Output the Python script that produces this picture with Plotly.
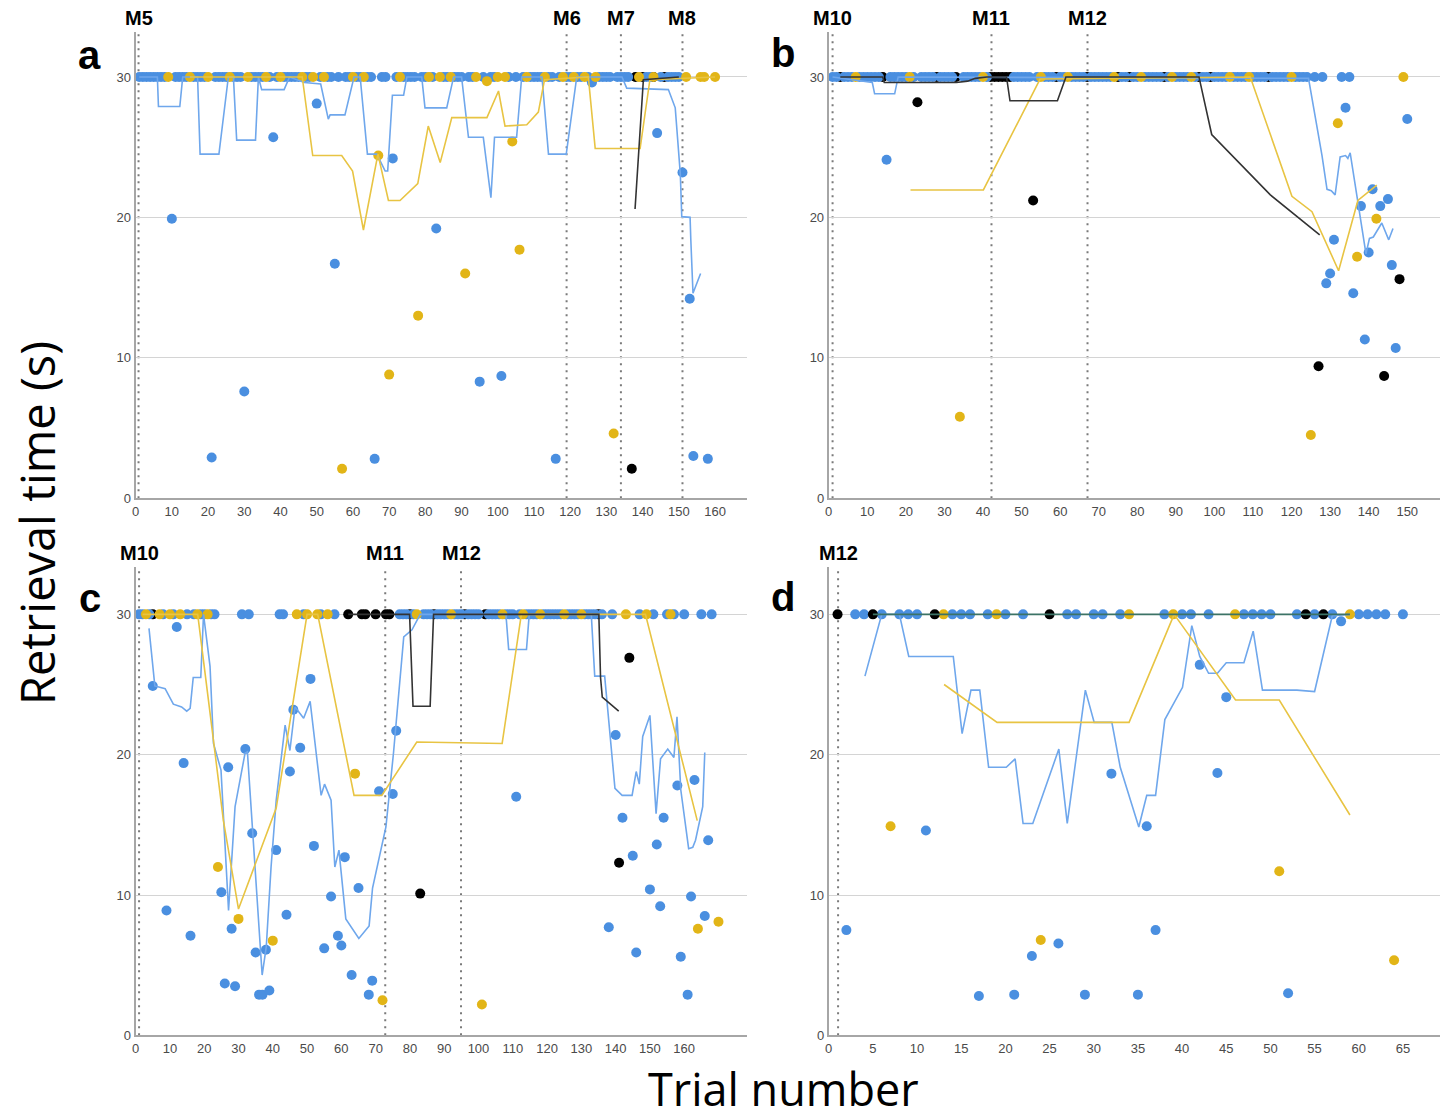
import plotly.graph_objects as go

W, H = 1451, 1118
S = 0.9925  # vertical calibration of target pixel positions
CEIL = 30

BLUE = "#4A8FE0"
YEL = "#E2B517"
BLK = "#000000"
BLUE_L = "#6FA7EC"
YEL_L = "#E8C443"
BLK_L = "#333333"
TEAL_L = "#3C7366"

# ---------------- Panel a ----------------
a_blue30 = [1,2,3,4,5,6,7,8,11,12,13,14,16,17,18,19,22,23,24,25,27,28,29,32,33,34,35,37,39,41,42,43,44,45,47,48,51,53,54,56,58,59,61,62,64,65,68,69,72,74,75,76,77,79,80,82,85,86,88,89,90,92,93,96,98,99,103,105,107,109,110,111,112,114,115,117,119,120,122,123,125,128,129,130,131,133,134,135,136,141,142,145,147,148,149,150]
a_blue_x = [10,21,30,38,50,55,66,71,83,95,101,116,126,144,151,153,154,158]
a_blue_y = [19.9,2.9,7.6,25.7,28.1,16.7,2.8,24.2,19.2,8.3,8.7,2.8,29.6,26.0,23.2,14.2,3.0,2.8]
a_yel30 = [9,15,20,26,31,36,40,46,49,52,60,63,73,81,84,87,94,100,102,108,113,118,121,124,127,139,143,152,156,157,160]
a_yel_x = [57,67,70,78,91,97,104,106,132]
a_yel_y = [2.1,24.4,8.8,13.0,16.0,29.7,25.4,17.7,4.6]
a_blk30 = [138,140,143,146]
a_blk_x = [137]
a_blk_y = [2.1]
a_lblue_x = [1,6,6.3,12.2,13,17.1,17.8,23,25.6,27,27.9,33.1,33.9,34.4,34.8,41,42.5,46.6,51.1,53.2,53.7,57.8,60.3,62,64,66.6,68.9,69.6,70.9,74,74.9,79,79.9,85.9,87.8,90,91.9,96,98.1,99.1,105.2,106.6,112.2,114,118.9,121.8,134.3,135.6,147.1,149,150.4,150.8,153.1,153.3,153.9,156]
a_lblue_y = [30,30,27.9,27.9,30,30,24.5,24.5,30,30,25.5,25.5,30,29.5,29.1,29.1,30,29.6,29.5,27.0,27.3,27.3,30,30,24.5,24.5,23.3,23.3,28.7,28.7,30,30,27.8,27.8,30,30,25.7,25.7,21.4,25.7,25.7,30,30,24.5,24.5,30,30,29.2,29.1,27.8,23.1,20.05,20.0,18.4,14.6,16.0]
a_lyel_x = [15,46,48.9,56.9,59.9,62.9,66.9,69.8,73,77.9,80.8,84.1,87.3,95.6,97,100.2,102,108,111.2,112.9,125,126.9,139.3,142,160]
a_lyel_y = [30,30,24.4,24.4,23.3,19.1,24.5,21.2,21.2,22.4,26.5,23.9,27.1,27.1,27.1,29.0,26.5,26.6,27.5,29.8,30,24.9,24.9,29.8,30]
a_lblk_x = [137.9,140.2,150]
a_lblk_y = [20.6,29.8,30]
a_ms_x = [0.8,119,134,151]
a_ms_lab = ["M5","M6","M7","M8"]
a_ticks = [0,10,20,30,40,50,60,70,80,90,100,110,120,130,140,150,160]

# ---------------- Panel b ----------------
b_blue30 = [1,2,4,5,6,8,9,10,11,12,13,16,17,18,19,20,22,24,25,26,27,29,30,31,32,35,36,37,38,39,41,48,49,50,51,52,54,56,57,58,60,61,63,64,65,66,68,69,70,71,72,73,76,77,79,80,82,83,84,85,86,88,90,91,92,93,95,97,98,100,101,102,103,105,106,107,108,110,111,112,113,115,116,117,118,119,121,122,123,124,126,128,133,135]
b_blue_x = [15,129,130,131,134,136,138,139,140,141,143,145,146,147,150]
b_blue_y = [24.1,15.3,16.0,18.4,27.8,14.6,20.8,11.3,17.5,22.0,20.8,21.3,16.6,10.7,27.0]
b_yel30 = [7,21,40,55,62,74,81,89,94,104,109,120,149]
b_yel_x = [34,125,132,137,142]
b_yel_y = [5.8,4.5,26.7,17.2,19.9]
b_blk30 = [3,14,28,33,42,43,44,45,46,47,59,67,75,78,87,96,99,114]
b_blk_x = [23,53,127,144,148]
b_blk_y = [28.2,21.2,9.4,8.7,15.6]
b_lblue_x = [1,11.3,11.9,17.1,18,124.4,127.9,129.2,130.3,131.3,132.6,134,134.6,135.2,139.3,140.2,141.2,143.4,145.2,146.3]
b_lblue_y = [30,29.6,28.8,28.8,30,29.9,24.4,22.0,21.9,21.6,24.3,24.4,24.2,24.6,17.4,18.5,18.6,19.6,18.4,19.2]
b_lyel_x = [21.2,40.1,54.8,109.3,120.1,125.3,132.2,137.2,142.1]
b_lyel_y = [21.95,21.95,29.85,30,21.5,20.4,16.2,21.2,22.3]
b_lblk_x = [3,14,14.4,33.1,36,38,41,46.1,47,59.3,61.5,96,99.3,114.5,127.3]
b_lblk_y = [30,30,29.6,29.6,29.7,29.9,30,30,28.3,28.3,30,30,25.9,21.6,18.75]
b_ms_x = [1.0,42.2,67.1]
b_ms_lab = ["M10","M11","M12"]
b_ticks = [0,10,20,30,40,50,60,70,80,90,100,110,120,130,140,150]

# ---------------- Panel c ----------------
c_blue30 = [1,2,4,8,11,15,17,19,20,22,23,31,33,42,43,49,54,58,77,78,79,81,84,85,86,88,89,90,91,93,94,95,97,98,99,100,103,104,105,106,108,109,110,112,114,115,116,117,119,120,121,122,123,124,126,127,128,129,131,132,133,134,136,139,147,151,155,157,160,165,168]
c_blue_x = [5,9,12,14,16,25,26,27,28,29,32,34,35,36,37,38,39,41,44,45,46,48,51,52,55,57,59,60,61,63,65,68,69,71,75,76,111,138,140,142,145,146,150,152,153,154,158,159,161,162,163,166,167]
c_blue_y = [24.9,8.9,29.1,19.4,7.1,10.2,3.7,19.1,7.6,3.5,20.4,14.4,5.9,2.9,2.9,6.1,3.2,13.2,8.6,18.8,23.2,20.5,25.4,13.5,6.2,9.9,7.1,6.4,12.7,4.3,10.5,2.9,3.9,17.4,17.2,21.7,17.0,7.7,21.4,15.5,12.8,5.9,10.4,13.6,9.2,15.5,17.8,5.6,2.9,9.9,18.2,8.5,13.9]
c_yel30 = [3,7,10,13,18,21,47,50,53,56,82,92,107,113,118,125,130,143,149,156]
c_yel_x = [24,30,40,64,72,101,164,170]
c_yel_y = [12.0,8.3,6.75,18.65,2.5,2.2,7.6,8.1]
c_blk30 = [5,62,66,67,70,73,74,80,87,96,102,135]
c_blk_x = [83,141,144]
c_blk_y = [10.1,12.3,26.9]
c_lblue_x = [3.9,5.6,8.6,11,13.4,14.9,15.9,16.8,19,19.8,21.7,22.7,24.9,25.6,27.1,29,31.9,32.6,33.9,36.9,38.1,39.5,41,43.6,45,46.5,49,50.9,54.1,55.1,57,58.1,59.3,61.3,65.1,68.1,69.1,73,75.2,76.5,78.2,80.6,83,108,108.8,114,114.8,132.9,133.9,136.8,139.8,141.9,144.8,146,146.9,147.9,150,151.8,153.1,155.2,157,157.9,159,161.3,162.5,163.3,165.4,166]
c_lblue_y = [29.0,24.9,24.7,23.6,23.4,23.1,23.3,25.5,25.5,30,26.3,20.8,18.9,15.5,8.9,16.3,20.1,20.2,15.3,4.3,6.3,12,16.75,22.1,20.3,23.4,22.6,23.8,17.1,17.9,16.75,12,13.2,8.3,6.9,7.8,10.5,14.85,20.1,23.9,28.4,28.9,30,30,27.5,27.5,30,30,25.6,25.6,17.6,17.1,17.1,18.8,17.9,21.3,22.8,15.8,19.7,20.4,19.8,22.7,17.5,13.3,13.4,13.9,16.3,20.15]
c_lyel_x = [2,18.1,22.2,24.1,25.6,30,41,50,53.1,63.7,71.8,82,106.9,112.5,148.7,163.8]
c_lyel_y = [30,30,22.0,18.2,15.3,9.0,16.2,30,30,17.1,17.1,20.9,20.8,30,30,15.3]
c_lblk_x = [62,79.9,80.9,85.9,86.9,135.1,135.6,136.1,140.9]
c_lblk_y = [30,30,23.45,23.45,30,30,25.5,24.1,23.1]
c_ms_x = [1.0,72.8,94.9]
c_ms_lab = ["M10","M11","M12"]
c_ticks = [0,10,20,30,40,50,60,70,80,90,100,110,120,130,140,150,160]

# ---------------- Panel d ----------------
d_blue30 = [3,4,6,8,9,10,14,15,16,18,20,22,27,28,30,31,33,38,40,41,43,47,48,49,50,53,55,57,60,61,62,63,65]
d_blue_x = [2,11,17,21,23,26,29,32,35,36,37,42,44,45,52,58]
d_blue_y = [7.5,14.6,2.8,2.9,5.65,6.55,2.9,18.65,2.9,14.9,7.5,26.4,18.7,24.1,3.0,29.5]
d_yel30 = [13,19,34,39,46,59]
d_yel_x = [7,24,51,64]
d_yel_y = [14.9,6.8,11.7,5.35]
d_blk30 = [1,5,12,25,54,56]
d_blk_x = []
d_blk_y = []
d_lblue_x = [4.1,6,8,9.06,14.1,15.1,16.1,17.1,18.1,20.1,21.1,22,23.1,26.05,27,29.05,30.05,32.05,33,35.1,36,37,38.05,40.05,41.1,42,43,44,45,47,48.05,49.1,53,55,57,59]
d_lblue_y = [25.6,30,30,27.0,27.0,21.5,24.6,24.6,19.1,19.1,19.7,15.1,15.1,20.4,15.1,24.6,22.3,22.3,19.1,14.85,17.1,17.1,22.5,24.8,29.2,27.0,25.8,25.8,26.55,26.55,28.8,24.6,24.6,24.5,29.9,30]
d_lyel_x = [13.06,19.06,34,39.1,46.05,51,59]
d_lyel_y = [25.0,22.3,22.3,30,23.9,23.9,15.7]
d_lblk_x = [5,59]
d_lblk_y = [30,30]
d_ms_x = [1.06]
d_ms_lab = ["M12"]
d_ticks = [0,5,10,15,20,25,30,35,40,45,50,55,60,65]


def px_x(p):
    return p / W


def px_y(p):
    return 1 - p / (H * S)


panels = [
    dict(name="a", left=132, right=745, top=32, bottom=498, xmax=168.8, ymax=33.2,
         blue30=a_blue30, bx=a_blue_x, by=a_blue_y, yel30=a_yel30, yx=a_yel_x, yy=a_yel_y,
         blk30=a_blk30, kx=a_blk_x, ky=a_blk_y, blk_top=False,
         lb=(a_lblue_x, a_lblue_y), ly=(a_lyel_x, a_lyel_y), lk=(a_lblk_x, a_lblk_y), lkc=BLK_L,
         ms=a_ms_x, msl=a_ms_lab, ticks=a_ticks, letter_xy=(86, 55)),
    dict(name="b", left=827, right=1440, top=32, bottom=498, xmax=158.5, ymax=33.2,
         blue30=b_blue30, bx=b_blue_x, by=b_blue_y, yel30=b_yel30, yx=b_yel_x, yy=b_yel_y,
         blk30=b_blk30, kx=b_blk_x, ky=b_blk_y, blk_top=False,
         lb=(b_lblue_x, b_lblue_y), ly=(b_lyel_x, b_lyel_y), lk=(b_lblk_x, b_lblk_y), lkc=BLK_L,
         ms=b_ms_x, msl=b_ms_lab, ticks=b_ticks, letter_xy=(781, 53)),
    dict(name="c", left=132, right=745, top=567, bottom=1035, xmax=178.3, ymax=33.36,
         blue30=c_blue30, bx=c_blue_x, by=c_blue_y, yel30=c_yel30, yx=c_yel_x, yy=c_yel_y,
         blk30=c_blk30, kx=c_blk_x, ky=c_blk_y, blk_top=False,
         lb=(c_lblue_x, c_lblue_y), ly=(c_lyel_x, c_lyel_y), lk=(c_lblk_x, c_lblk_y), lkc=BLK_L,
         ms=c_ms_x, msl=c_ms_lab, ticks=c_ticks, letter_xy=(86, 598)),
    dict(name="d", left=827, right=1440, top=567, bottom=1035, xmax=69.2, ymax=33.36,
         blue30=d_blue30, bx=d_blue_x, by=d_blue_y, yel30=d_yel30, yx=d_yel_x, yy=d_yel_y,
         blk30=d_blk30, kx=d_blk_x, ky=d_blk_y, blk_top=True,
         lb=(d_lblue_x, d_lblue_y), ly=(d_lyel_x, d_lyel_y), lk=(d_lblk_x, d_lblk_y), lkc=TEAL_L,
         ms=d_ms_x, msl=d_ms_lab, ticks=d_ticks, letter_xy=(781, 597)),
]

fig = go.Figure()
layout = dict(
    width=W, height=H, margin=dict(l=0, r=0, t=0, b=0),
    paper_bgcolor="white", plot_bgcolor="white", showlegend=False,
    font=dict(family="Liberation Sans, Arial, sans-serif", color="#444"),
)
shapes = []
annotations = []
MK = 10

for i, p in enumerate(panels):
    k = "" if i == 0 else str(i + 1)
    xa, ya = "x" + k, "y" + k
    layout["xaxis" + k] = dict(
        domain=[px_x(p["left"]), px_x(p["right"])], range=[0, p["xmax"]],
        anchor=ya, tickvals=p["ticks"], ticktext=[str(t) for t in p["ticks"]],
        showgrid=False, zeroline=False, showline=True, linecolor="#A6A6A6", linewidth=2,
        ticks="", tickfont=dict(size=13, color="#4a4a4a"), fixedrange=True,
    )
    layout["yaxis" + k] = dict(
        domain=[px_y(p["bottom"]), px_y(p["top"])], range=[0, p["ymax"]],
        anchor=xa, tickvals=[0, 10, 20, 30], showgrid=True, gridcolor="#D4D4D4", gridwidth=1,
        zeroline=False, showline=True, linecolor="#A6A6A6", linewidth=2,
        ticks="", tickfont=dict(size=13, color="#4a4a4a"), fixedrange=True,
    )
    for mx, ml in zip(p["ms"], p["msl"]):
        shapes.append(dict(type="line", xref=xa, yref=ya + " domain", x0=mx, x1=mx, y0=0, y1=1,
                           line=dict(color="#7A7A7A", width=2, dash="2px,5px"), layer="below"))
        annotations.append(dict(xref=xa, yref="paper", x=mx, y=px_y(p["top"] - 14), text="<b>%s</b>" % ml,
                                showarrow=False, font=dict(size=20, color="black",
                                family="Liberation Sans, Arial, sans-serif"),
                                xanchor="center", yanchor="middle"))
    lx, ly = p["letter_xy"]
    annotations.append(dict(xref="paper", yref="paper", x=px_x(lx), y=px_y(ly), text="<b>%s</b>" % p["name"],
                            showarrow=False, font=dict(size=40, color="black",
                            family="Liberation Sans, Arial, sans-serif"),
                            xanchor="center", yanchor="middle"))

    mk = dict(size=MK, line=dict(width=0))
    blk_trace = go.Scatter(x=p["blk30"] + p["kx"], y=[CEIL] * len(p["blk30"]) + p["ky"],
                           mode="markers", marker=dict(color=BLK, **mk), xaxis=xa, yaxis=ya, hoverinfo="skip")
    if not p["blk_top"]:
        fig.add_trace(blk_trace)
    fig.add_trace(go.Scatter(x=p["blue30"] + p["bx"], y=[CEIL] * len(p["blue30"]) + p["by"],
                             mode="markers", marker=dict(color=BLUE, **mk), xaxis=xa, yaxis=ya, hoverinfo="skip"))
    fig.add_trace(go.Scatter(x=p["yel30"] + p["yx"], y=[CEIL] * len(p["yel30"]) + p["yy"],
                             mode="markers", marker=dict(color=YEL, **mk), xaxis=xa, yaxis=ya, hoverinfo="skip"))
    if p["blk_top"]:
        fig.add_trace(blk_trace)
    fig.add_trace(go.Scatter(x=p["lb"][0], y=p["lb"][1], mode="lines",
                             line=dict(color=BLUE_L, width=1.6), xaxis=xa, yaxis=ya, hoverinfo="skip"))
    fig.add_trace(go.Scatter(x=p["ly"][0], y=p["ly"][1], mode="lines",
                             line=dict(color=YEL_L, width=1.6), xaxis=xa, yaxis=ya, hoverinfo="skip"))
    fig.add_trace(go.Scatter(x=p["lk"][0], y=p["lk"][1], mode="lines",
                             line=dict(color=p["lkc"], width=1.6), xaxis=xa, yaxis=ya, hoverinfo="skip"))

annotations.append(dict(xref="paper", yref="paper", x=px_x(33), y=px_y(523), text="Retrieval time (s)",
                        textangle=-90, showarrow=False,
                        font=dict(size=47, color="black", family="Open Sans, sans-serif"),
                        xanchor="center", yanchor="middle"))
annotations.append(dict(xref="paper", yref="paper", x=px_x(782), y=px_y(1088), text="Trial number",
                        showarrow=False,
                        font=dict(size=45, color="black", family="Open Sans, sans-serif"),
                        xanchor="center", yanchor="middle"))

layout["shapes"] = shapes
layout["annotations"] = annotations
fig.update_layout(**layout)
fig.write_html("out.html")
